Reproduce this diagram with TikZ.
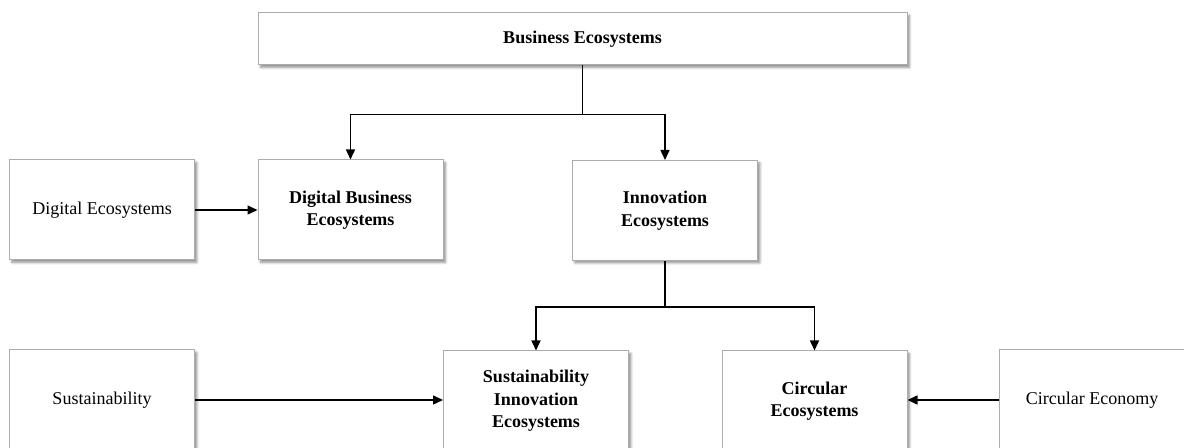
\documentclass[tikz,border=0pt]{standalone}
\usepackage{fontspec}
\setmainfont{Liberation Serif}
\usepackage{tikz}
\usetikzlibrary{arrows.meta,shadows.blur}

\begin{document}
\begin{tikzpicture}[x=0.5pt,y=-0.5pt]
\tikzstyle{every node}+=[inner sep=0pt]
\tikzstyle{box}=[draw=gray!65, line width=0.5pt, fill=white, minimum width=92.5pt, minimum height=50pt, align=center, font=\fontsize{9}{11.25}\selectfont, blur shadow={shadow xshift=1.2pt, shadow yshift=-1.2pt, shadow blur radius=1.2pt, shadow blur steps=6, shadow opacity=45}]
\tikzstyle{arr}=[line width=0.75pt, -{Triangle[length=5pt,width=4.5pt]}]
\tikzstyle{ln}=[line width=0.75pt]
\clip (0,0) rectangle (1184,448);
\node [box, minimum width=324.5pt, minimum height=26pt, font=\fontsize{9}{11.25}\selectfont\bfseries] (bizeco) at (582.5,39) {Business Ecosystems};
\node [box] (digeco) at (102,210) {Digital Ecosystems};
\node [box, font=\fontsize{9}{11.25}\selectfont\bfseries] (digbiz) at (350.5,210) {Digital Business\\Ecosystems};
\node [box, font=\fontsize{9}{11.25}\selectfont\bfseries] (innoeco) at (665,210.5) {Innovation\\Ecosystems};
\node [box] (sustain) at (102,400) {Sustainability};
\node [box, font=\fontsize{9}{11.25}\selectfont\bfseries] (susinno) at (536,401) {Sustainability\\Innovation\\Ecosystems};
\node [box, font=\fontsize{9}{11.25}\selectfont\bfseries] (circeco) at (814.5,401) {Circular\\Ecosystems};
\node [box] (circecon) at (1092,400) {Circular Economy};
\draw [ln] (bizeco.south) -- ++(0,49) coordinate (bizjoin);
\draw [arr] (bizjoin) -| (digbiz.north);
\draw [arr] (bizjoin) -| (innoeco.north);
\draw [arr] (digeco.east) -- (digbiz.west);
\draw [ln] (innoeco.south) -- ++(0,46) coordinate (innojoin);
\draw [arr] (innojoin) -| (susinno.north);
\draw [arr] (innojoin) -| (circeco.north);
\draw [arr] (sustain.east) -- (sustain.east -| susinno.west);
\draw [arr] (circecon.west) -- (circecon.west -| circeco.east);
\end{tikzpicture}
\end{document}
